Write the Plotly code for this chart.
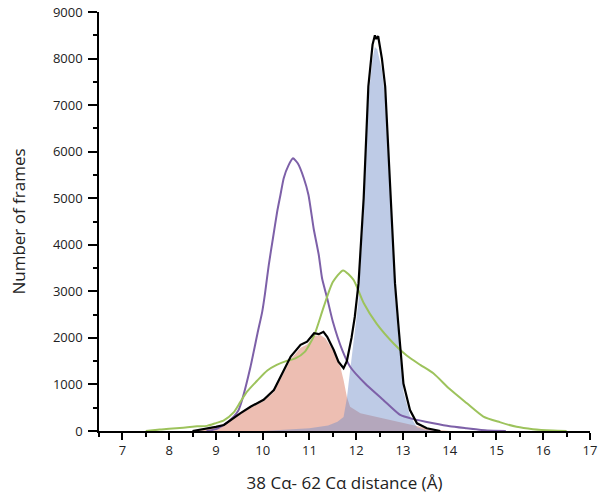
import plotly.graph_objects as go

# Black outline (total)
black_x = [8.5, 8.81, 9.0, 9.17, 9.31, 9.52, 9.74, 10.02, 10.24, 10.45, 10.6, 10.81, 10.95, 11.1, 11.2, 11.3,
           11.38, 11.52, 11.62, 11.73, 11.8, 11.9, 11.97, 12.05, 12.1, 12.16, 12.26, 12.35, 12.4, 12.43, 12.47,
           12.55, 12.62, 12.69, 12.76, 12.83, 12.9, 13.01, 13.15, 13.3, 13.51, 13.8]
black_y = [0, 50, 90, 130, 236, 380, 520, 670, 880, 1310, 1600, 1850, 1920, 2100, 2080, 2130,
           2025, 1740, 1490, 1350, 1500, 2000, 2450, 3170, 4100, 5000, 7400, 8300, 8500, 8420, 8480,
           8000, 7400, 5960, 4400, 3170, 2300, 1020, 450, 165, 58, 0]

# Salmon filled distribution
salmon_x = [8.5, 8.81, 9.0, 9.17, 9.31, 9.52, 9.74, 10.02, 10.24, 10.45, 10.6, 10.81, 10.95, 11.1, 11.23,
            11.34, 11.52, 11.66, 11.73, 11.8, 11.87, 12.09, 12.58, 12.94, 13.22, 13.6, 14.0]
salmon_y = [0, 45, 85, 125, 225, 365, 500, 640, 840, 1260, 1540, 1790, 1860, 2040, 2060,
            1990, 1700, 1380, 1095, 737, 520, 380, 273, 200, 130, 40, 0]

# Blue filled distribution
blue_x = [10.0, 10.5, 11.0, 11.4, 11.6, 11.73, 11.8, 11.87, 11.97, 12.05, 12.1, 12.16, 12.26, 12.35, 12.4,
          12.45, 12.55, 12.62, 12.69, 12.76, 12.83, 12.9, 13.01, 13.15, 13.3, 13.5, 13.8]
blue_y = [0, 30, 60, 120, 200, 300, 700, 1300, 2100, 2800, 3750, 4700, 7150, 8000, 8250,
          8200, 7750, 7150, 5750, 4200, 2950, 2100, 850, 330, 80, 20, 0]

# Purple line
purple_x = [8.8, 9.0, 9.1, 9.2, 9.38, 9.48, 9.56, 9.74, 9.89, 9.99, 10.05, 10.13, 10.22, 10.31, 10.38,
            10.45, 10.55, 10.65, 10.75, 10.88, 10.98, 11.09, 11.2, 11.27, 11.38, 11.5, 11.7, 11.87,
            12.19, 12.58, 12.94, 13.2, 13.65, 14.0, 14.36, 14.8, 15.2]
purple_y = [0, 40, 92, 150, 307, 440, 666, 1380, 2100, 2560, 2950, 3565, 4140, 4710, 5070,
            5430, 5700, 5856, 5750, 5430, 5070, 4350, 3780, 3280, 2850, 2350, 1740, 1380,
            1020, 666, 344, 260, 165, 100, 58, 10, 0]

# Green line
green_x = [7.5, 7.8, 8.0, 8.3, 8.6, 8.81, 9.0, 9.17, 9.38, 9.52, 9.67, 9.88, 10.1, 10.3, 10.5, 10.7,
           10.9, 11.1, 11.3, 11.5, 11.72, 11.94, 12.16, 12.44, 12.8, 13.08, 13.37, 13.65, 14.0, 14.36,
           14.72, 15.07, 15.43, 15.78, 16.2, 16.5]
green_y = [0, 30, 50, 70, 100, 110, 170, 230, 400, 620, 850, 1080, 1300, 1420, 1500, 1560,
           1700, 2050, 2650, 3200, 3450, 3250, 2750, 2300, 1880, 1620, 1420, 1240, 900, 600,
           310, 190, 90, 40, 10, 0]

x_ticks = [7, 8, 9, 10, 11, 12, 13, 14, 15, 16, 17]
y_ticks = [0, 1000, 2000, 3000, 4000, 5000, 6000, 7000, 8000, 9000]

fig = go.Figure()
fig.add_trace(go.Scatter(x=salmon_x, y=salmon_y, mode="lines", fill="tozeroy",
                         line=dict(width=0, color="rgba(0,0,0,0)"),
                         fillcolor="rgba(215,110,85,0.45)", showlegend=False))
fig.add_trace(go.Scatter(x=blue_x, y=blue_y, mode="lines", fill="tozeroy",
                         line=dict(width=0, color="rgba(0,0,0,0)"),
                         fillcolor="rgba(110,140,200,0.45)", showlegend=False))
fig.add_trace(go.Scatter(x=purple_x, y=purple_y, mode="lines",
                         line=dict(width=2, color="#7d60a8", shape="spline", smoothing=0.5),
                         showlegend=False))
fig.add_trace(go.Scatter(x=green_x, y=green_y, mode="lines",
                         line=dict(width=2, color="#9dc35c", shape="spline", smoothing=0.6),
                         showlegend=False))
fig.add_trace(go.Scatter(x=black_x, y=black_y, mode="lines",
                         line=dict(width=2.2, color="#000000"), showlegend=False))

font_family = "Open Sans, Noto Sans, DejaVu Sans, sans-serif"
fig.update_layout(
    width=610, height=499,
    margin=dict(l=99, r=20, t=12, b=68, autoexpand=False),
    paper_bgcolor="white", plot_bgcolor="white",
    font=dict(family=font_family, color="#222"),
    xaxis=dict(range=[6.5, 17], tickvals=x_ticks, ticktext=[str(v) for v in x_ticks],
               automargin=False,
               showgrid=False, zeroline=False, showline=True, linecolor="black", linewidth=1.5,
               ticks="outside", ticklen=7, tickwidth=1.5, tickcolor="black",
               tickfont=dict(size=13),
               minor=dict(dtick=0.5, tick0=6.5, ticks="outside", ticklen=4, tickwidth=1.5, tickcolor="black"),
               title=dict(text="38 Cα- 62 Cα distance (Å)", font=dict(size=17), standoff=19)),
    yaxis=dict(range=[0, 9000], tickvals=y_ticks, ticktext=[str(v) for v in y_ticks],
               automargin=False, ticklabelstandoff=3,
               showgrid=False, zeroline=False, showline=True, linecolor="black", linewidth=1.5,
               ticks="outside", ticklen=9, tickwidth=1.5, tickcolor="black",
               tickfont=dict(size=13),
               minor=dict(dtick=500, ticks="outside", ticklen=4, tickwidth=1.5, tickcolor="black"),
               title=dict(text="Number of frames", font=dict(size=17), standoff=23)),
)

fig.write_html("out.html", config={"displayModeBar": False},
               post_script="document.body.style.margin='0px';")
